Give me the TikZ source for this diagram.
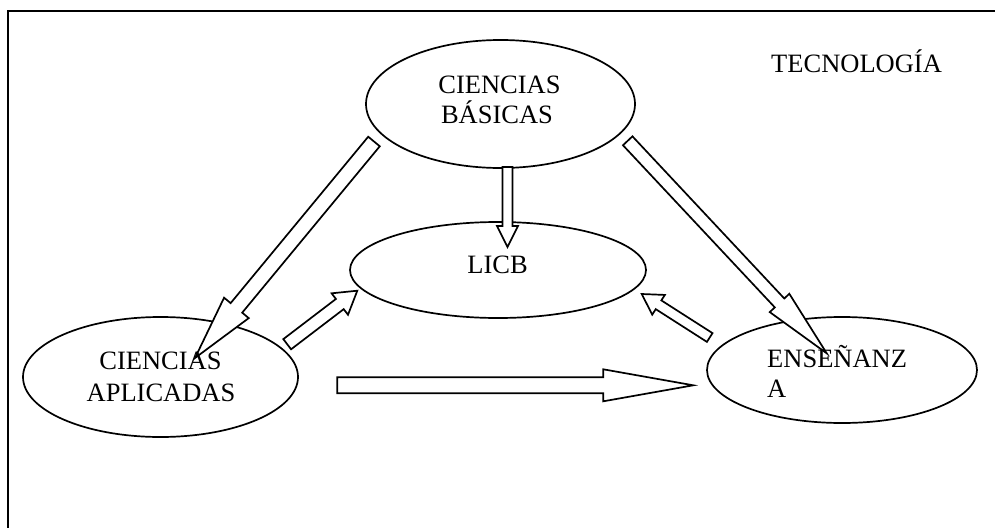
\documentclass[tikz,border=0pt]{standalone}
\usepackage{fontspec}
\setmainfont{Liberation Serif}
\usetikzlibrary{shapes.geometric,calc}
\tikzset{
  concept/.style={draw, ellipse, line width=1.7pt, inner sep=0pt},
  barrow/.style={draw, fill=white, line width=1.7pt, line join=miter},
  lbl/.style={inner sep=0pt, font=\fontsize{26.5}{30}\selectfont},
  frame/.style={draw, line width=1.8pt},
}
% #1 tail, #2 tip, #3 half shaft width, #4 half head width, #5 head length
\newcommand\blockarr[5]{%
  \coordinate (ba-h) at ($(#2)!#5!(#1)$);
  \draw[barrow] ($(#1)!#3!90:(#2)$) -- ($(ba-h)!#3!-90:(#1)$) -- ($(ba-h)!#4!-90:(#1)$)
    -- (#2) -- ($(ba-h)!#4!90:(#1)$) -- ($(ba-h)!#3!90:(#1)$) -- ($(#1)!#3!-90:(#2)$) -- cycle;
}
\begin{document}
\begin{tikzpicture}[x=1pt,y=-1pt]
\useasboundingbox (0,0) rectangle (995,527);
\draw[frame] (8,11) rectangle (1010,545);

\node[concept, minimum width=269pt, minimum height=128pt] (cb) at (500.5,104) {};
\node[concept, minimum width=296pt, minimum height=96pt] (lc) at (498,270) {};
\node[concept, minimum width=275pt, minimum height=120pt] (ca) at (160.5,377) {};
\node[concept, minimum width=270pt, minimum height=106pt] (en) at (842,370) {};

% arrow end points
\coordinate (v-tail) at (507.5,167);
\coordinate (v-tip) at (507.5,247);
\coordinate (l-tail) at (374,141.5);
\coordinate (l-tip) at (195,358);
\coordinate (r-tail) at (627.7,140.8);
\coordinate (r-tip) at (826.7,353.3);
\coordinate (cl-tail) at (287.2,344.2);
\coordinate (cl-tip) at (357.3,290.7);
\coordinate (el-tail) at (709.7,337.5);
\coordinate (el-tip) at (641.7,294);
\coordinate (h-tail) at (337.3,385.3);
\coordinate (h-tip) at (693.3,385.3);

\blockarr{v-tail}{v-tip}{5pt}{10.5pt}{21pt}
\blockarr{l-tail}{l-tip}{7.5pt}{16pt}{65pt}
\blockarr{r-tail}{r-tip}{6.5pt}{13.4pt}{69pt}
\blockarr{cl-tail}{cl-tip}{6.4pt}{13.5pt}{22pt}
\blockarr{el-tail}{el-tip}{5.2pt}{11.7pt}{20pt}
\blockarr{h-tail}{h-tip}{8pt}{16pt}{90pt}

\node[lbl, anchor=base] (cbt1) at (499.5,93) {CIENCIAS};
\node[lbl, anchor=base] (cbt2) at (497,123) {BÁSICAS};
\node[lbl, anchor=base] (lct) at (497.5,273) {LICB};
\node[lbl, anchor=base] (cat1) at (160.5,369) {CIENCIAS};
\node[lbl, anchor=base] (cat2) at (161,401) {APLICADAS};
\node[lbl, anchor=base west] (ent1) at (767,367) {ENSEÑANZ};
\node[lbl, anchor=base west] (ent2) at (767,397) {A};
\node[lbl, anchor=base west] (tec) at (771,72) {TECNOLOGÍA};
\end{tikzpicture}
\end{document}
